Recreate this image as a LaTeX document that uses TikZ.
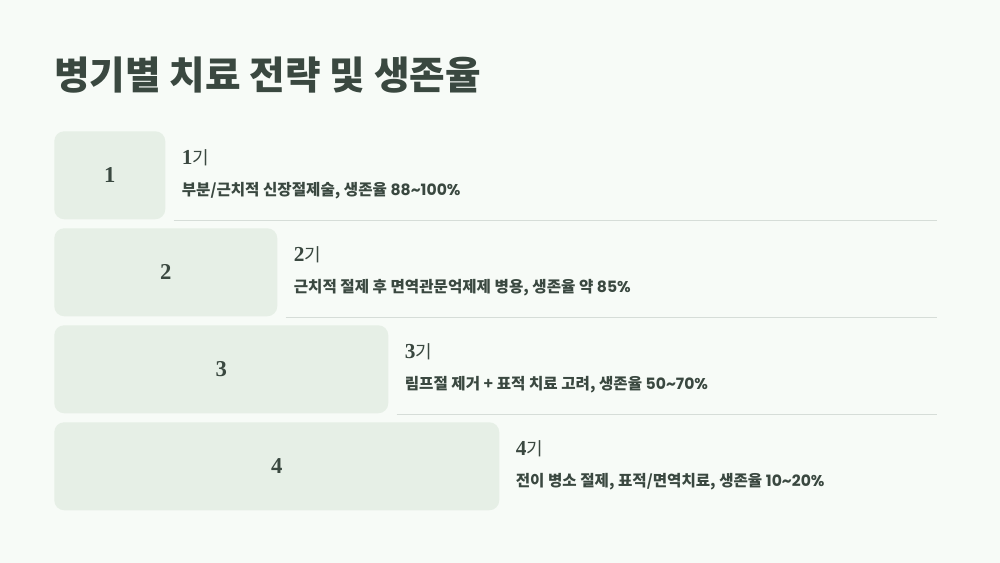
\documentclass[tikz,border=0pt]{standalone}
\usepackage{fontspec}
\setmainfont{Noto Sans CJK KR}
\newfontfamily\numf{Liberation Serif}
\newfontfamily\digf{Poppins}
\definecolor{bg}{HTML}{F7FBF7}
\definecolor{boxc}{HTML}{E6EFE6}
\definecolor{txt}{HTML}{3A4840}
\definecolor{sep}{HTML}{D6DDD8}
\tikzset{
  stagebox/.style={fill=boxc, rounded corners=10*0.75pt, inner sep=0pt, anchor=north west},
  numlbl/.style={text=txt, font=\numf\bfseries\fontsize{17}{19}\selectfont},
  headlbl/.style={text=txt, anchor=west, inner sep=0pt, font=\fontsize{13.5}{15}\selectfont},
  desclbl/.style={text=txt, anchor=west, inner sep=0pt, font=\bfseries\fontsize{11.7}{13}\selectfont},
  sepline/.style={draw=sep, line width=0.8pt}
}
\newcommand{\dg}[1]{{\digf\bfseries #1}}
\begin{document}
\begin{tikzpicture}[x=0.75pt,y=-0.75pt]
\fill[bg] (0,0) rectangle (1000,563);
\useasboundingbox (0,0) rectangle (1000,563);
\node[anchor=west, inner sep=0pt, text=txt, font=\bfseries\fontsize{29}{33}\selectfont] (title) at (54,75) {병기별 치료 전략 및 생존율};
\foreach \i/\w/\t/\d in {1/111/{1}/{부분/근치적 신장절제술, 생존율 \dg{88\textasciitilde100\%}},
                         2/223/{2}/{근치적 절제 후 면역관문억제제 병용, 생존율 약 \dg{85\%}},
                         3/334/{3}/{림프절 제거 + 표적 치료 고려, 생존율 \dg{50\textasciitilde70\%}},
                         4/445/{4}/{전이 병소 절제, 표적/면역치료, 생존율 \dg{10\textasciitilde20\%}}}{
  \pgfmathsetmacro{\top}{131+(\i-1)*97}
  \node[stagebox, minimum width=\w*0.75pt, minimum height=88*0.75pt] (box\i) at (54,\top) {};
  \node[numlbl] (num\i) at (box\i.center) {\t};
  \node[headlbl] (head\i) at ([xshift=16*0.75pt, yshift=-27*0.75pt]box\i.north east) {{\numf\bfseries\fontsize{16}{17}\selectfont \t}기};
  \node[desclbl] (desc\i) at ([xshift=16*0.75pt, yshift=-60*0.75pt]box\i.north east) {\d};
}
\foreach \i in {1,2,3}{
  \coordinate (sa\i) at ([xshift=8*0.75pt, yshift=-1*0.75pt]box\i.south east);
  \coordinate (sb\i) at (937,0 |- sa\i);
  \draw[sepline] (sa\i) -- (sb\i);
}
\end{tikzpicture}
\end{document}
